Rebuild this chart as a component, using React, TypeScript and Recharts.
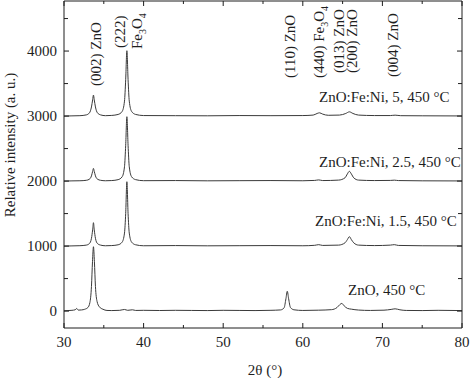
import React from 'react';
import { LineChart, Line, XAxis, YAxis } from 'recharts';

// [2θ, intensity], already offset as plotted
const zno450: [number, number][] = [
  [30, 5], [30.5, 8], [31, 12], [31.4, 20], [31.6, 40], [31.8, 15], [32.2, 18], [32.6, 28], [33, 55],
  [33.25, 130], [33.45, 380], [33.58, 760], [33.7, 990], [33.82, 760], [33.95, 380], [34.15, 150],
  [34.45, 65], [34.9, 28], [35.4, 10], [36, 8], [37, 12], [37.6, 25], [38, 12], [38.6, 20], [39, 10],
  [40, 12], [42, 9], [44, 12], [46, 10], [48, 8], [50, 12], [52, 10], [54, 8], [56, 12], [57.2, 18],
  [57.65, 50], [57.88, 190], [58.05, 305], [58.22, 190], [58.45, 55], [58.9, 20], [60, 10], [62, 14],
  [63.6, 22], [64.3, 55], [64.65, 100], [64.9, 118], [65.2, 80], [65.6, 42], [66.1, 30], [67, 16],
  [68.5, 10], [70.2, 14], [71.1, 26], [71.6, 35], [72.2, 20], [73, 10], [75, 8], [77, 12], [80, 8],
];

const fe15: [number, number][] = [
  [30, 1000], [31, 1003], [32, 1006], [32.8, 1015], [33.2, 1040], [33.45, 1120], [33.6, 1250],
  [33.7, 1360], [33.8, 1250], [33.95, 1120], [34.2, 1040], [34.6, 1015], [35.2, 1005], [36, 1008],
  [36.8, 1020], [37.3, 1060], [37.6, 1200], [37.75, 1500], [37.9, 1990], [38.05, 1500], [38.2, 1200],
  [38.5, 1060], [39, 1020], [40, 1005], [44, 1008], [48, 1004], [52, 1006], [56, 1008], [60, 1005],
  [61.5, 1012], [62, 1022], [62.5, 1010], [64.5, 1015], [65.3, 1050], [65.6, 1100], [65.85, 1145],
  [66.1, 1100], [66.4, 1050], [67, 1015], [69, 1008], [71, 1015], [71.5, 1022], [72, 1010], [75, 1005],
  [80, 1003],
];

const fe25: [number, number][] = [
  [30, 2000], [31, 2003], [32, 2005], [32.8, 2012], [33.2, 2030], [33.45, 2080], [33.6, 2150],
  [33.7, 2195], [33.8, 2150], [33.95, 2080], [34.2, 2030], [34.6, 2012], [35.2, 2005], [36, 2008],
  [36.8, 2022], [37.3, 2065], [37.6, 2220], [37.75, 2550], [37.9, 2990], [38.05, 2550], [38.2, 2220],
  [38.5, 2065], [39, 2022], [40, 2006], [44, 2008], [48, 2004], [52, 2006], [56, 2008], [60, 2005],
  [61.5, 2010], [62, 2018], [62.5, 2008], [64.5, 2015], [65.3, 2050], [65.6, 2110], [65.85, 2150],
  [66.1, 2110], [66.4, 2050], [67, 2015], [69, 2008], [71, 2010], [71.5, 2014], [72, 2008], [75, 2004],
  [80, 2002],
];

const fe5: [number, number][] = [
  [30, 3000], [31, 3003], [32, 3006], [32.8, 3018], [33.2, 3050], [33.45, 3140], [33.6, 3250],
  [33.7, 3323], [33.8, 3250], [33.95, 3140], [34.2, 3050], [34.6, 3018], [35.2, 3006], [36, 3010],
  [36.8, 3025], [37.3, 3070], [37.6, 3230], [37.75, 3560], [37.9, 4005], [38.05, 3560], [38.2, 3230],
  [38.5, 3070], [39, 3025], [40, 3008], [44, 3006], [48, 3004], [52, 3008], [56, 3006], [60, 3008],
  [61.3, 3015], [61.8, 3040], [62.1, 3050], [62.5, 3030], [63.2, 3012], [64.6, 3015], [65.4, 3040],
  [65.85, 3065], [66.3, 3040], [67, 3015], [69, 3008], [71, 3008], [71.6, 3014], [72.3, 3006],
  [75, 3004], [80, 3002],
];

const xTicks = [30, 35, 40, 45, 50, 55, 60, 65, 70, 75, 80];
const yTicks = [0, 500, 1000, 1500, 2000, 2500, 3000, 3500, 4000, 4500];

const series = [zno450, fe15, fe25, fe5].map((s) => s.map(([t, i]) => ({ t, i })));

const FONT = '"Liberation Serif", "Times New Roman", serif';
const INK = '#1e1e1e';
const TRACE = '#3a3a3a';

const BottomTick = ({ x, y, payload }: any) => {
  const major = payload.value % 10 === 0;
  return (
    <g>
      <line x1={x} x2={x} y1={y} y2={y - (major ? 5 : 3)} stroke={INK} />
      {major && (
        <text x={x} y={y + 19} textAnchor="middle" fontSize={15} fontFamily={FONT} fill={INK}>
          {payload.value}
        </text>
      )}
    </g>
  );
};

const TopTick = ({ x, y, payload }: any) => {
  const major = payload.value % 10 === 0;
  return <line x1={x} x2={x} y1={y} y2={y + (major ? 5 : 3)} stroke={INK} />;
};

const LeftTick = ({ x, y, payload }: any) => {
  const major = payload.value % 1000 === 0;
  return (
    <g>
      <line x1={x} x2={x + (major ? 5 : 4)} y1={y} y2={y} stroke={INK} />
      {major && (
        <text x={x - 7} y={y + 5} textAnchor="end" fontSize={15} fontFamily={FONT} fill={INK}>
          {payload.value}
        </text>
      )}
    </g>
  );
};

const RightTick = ({ x, y, payload }: any) => {
  const major = payload.value % 1000 === 0;
  return <line x1={x} x2={x - (major ? 5 : 4)} y1={y} y2={y} stroke={INK} />;
};

// rotated peak label, reads bottom to top
const Peak = ({ x, y, children }: { x: number; y: number; children: React.ReactNode }) => (
  <text x={x} y={y} transform={`rotate(-90 ${x} ${y})`} fontSize={15} fontFamily={FONT} fill={INK}>
    {children}
  </text>
);

const Fe3O4 = () => (
  <>
    Fe<tspan dy={4} fontSize={10}>3</tspan>
    <tspan dy={-4}>O</tspan>
    <tspan dy={4} fontSize={10}>4</tspan>
  </>
);

export default function App() {
  return (
    <div style={{ position: 'absolute', left: 0, top: 0, width: 474, height: 378, background: '#fff' }}>
      <LineChart width={474} height={378} margin={{ top: 0, right: 11, bottom: 0, left: 0 }}>
        <XAxis
          xAxisId="b"
          dataKey="t"
          type="number"
          domain={[30, 80]}
          ticks={xTicks}
          interval={0}
          allowDataOverflow
          height={50}
          tickSize={0}
          tickMargin={0}
          tick={<BottomTick />}
          axisLine={{ stroke: INK }}
        />
        <XAxis
          xAxisId="t"
          orientation="top"
          dataKey="t"
          type="number"
          domain={[30, 80]}
          ticks={xTicks}
          interval={0}
          allowDataOverflow
          height={1}
          tickSize={0}
          tickMargin={0}
          tick={<TopTick />}
          axisLine={{ stroke: INK }}
        />
        <YAxis
          yAxisId="l"
          type="number"
          domain={[-260, 4770]}
          ticks={yTicks}
          interval={0}
          allowDataOverflow
          width={64}
          tickSize={0}
          tickMargin={0}
          tick={<LeftTick />}
          axisLine={{ stroke: INK }}
        />
        <YAxis
          yAxisId="r"
          orientation="right"
          type="number"
          domain={[-260, 4770]}
          ticks={yTicks}
          interval={0}
          allowDataOverflow
          width={1}
          tickSize={0}
          tickMargin={0}
          tick={<RightTick />}
          axisLine={{ stroke: INK }}
        />
        {series.map((d, k) => (
          <Line
            key={k}
            xAxisId="b"
            yAxisId="l"
            data={d}
            dataKey="i"
            type="monotone"
            stroke={TRACE}
            strokeWidth={1}
            dot={false}
            activeDot={false}
            isAnimationActive={false}
          />
        ))}
      </LineChart>
      <svg
        width={474}
        height={378}
        style={{ position: 'absolute', left: 0, top: 0, pointerEvents: 'none' }}
      >
        <text
          x={15}
          y={145}
          transform="rotate(-90 15 145)"
          textAnchor="middle"
          fontSize={15}
          fontFamily={FONT}
          fill={INK}
        >
          Relative intensity (a. u.)
        </text>
        <text x={265} y={375} textAnchor="middle" fontSize={15} fontFamily={FONT} fill={INK}>
          2θ (°)
        </text>

        <Peak x={101} y={86}>(002) ZnO</Peak>
        <Peak x={125} y={48}>(222)</Peak>
        <Peak x={142} y={49}><Fe3O4 /></Peak>
        <Peak x={295} y={78}>(110) ZnO</Peak>
        <Peak x={324} y={78}>(440) <Fe3O4 /></Peak>
        <Peak x={344} y={73}>(013) ZnO</Peak>
        <Peak x={357} y={73}>(200) ZnO</Peak>
        <Peak x={398} y={77}>(004) ZnO</Peak>

        <text x={319} y={102} fontSize={15} fontFamily={FONT} fill={INK}>ZnO:Fe:Ni, 5, 450 °C</text>
        <text x={319} y={167} fontSize={15} fontFamily={FONT} fill={INK}>ZnO:Fe:Ni, 2.5, 450 °C</text>
        <text x={315} y={226} fontSize={15} fontFamily={FONT} fill={INK}>ZnO:Fe:Ni, 1.5, 450 °C</text>
        <text x={348} y={295} fontSize={15} fontFamily={FONT} fill={INK}>ZnO, 450 °C</text>
      </svg>
    </div>
  );
}
